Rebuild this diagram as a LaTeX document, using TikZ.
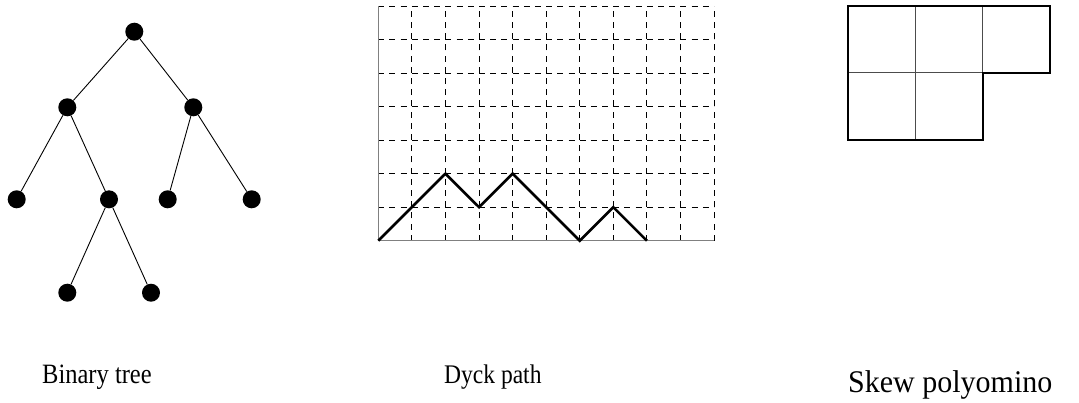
\documentclass[tikz,border=0pt]{standalone}
\usepackage{fontspec}
\setmainfont{Liberation Serif}
\begin{document}
\begin{tikzpicture}[x=1pt,y=-1pt,
  vertex/.style={circle,fill=black,draw=none,minimum size=18pt,inner sep=0pt},
  treeedge/.style={draw=black,line width=0.9pt},
  gridline/.style={black,line width=0.8pt,dash pattern=on 6pt off 5.19pt},
  axisline/.style={gray,line width=1.1pt},
  dyck/.style={black,line width=2.6pt,line join=miter},
  polyouter/.style={black,line width=1.8pt},
  polyinner/.style={black!70,line width=0.9pt},
  caption/.style={anchor=base west,inner sep=0pt}]
\useasboundingbox (0,0) rectangle (1079,402);
% ---------- Binary tree ----------
\node[vertex] (r)   at (134.3,31.7) {};
\node[vertex] (a)   at (67.3,107.3) {};
\node[vertex] (b)   at (193.3,107.3) {};
\node[vertex] (aa)  at (16.7,199.3) {};
\node[vertex] (ab)  at (109,199.3) {};
\node[vertex] (ba)  at (167.7,199.3) {};
\node[vertex] (bb)  at (251.7,199.3) {};
\node[vertex] (aba) at (67.3,292.7) {};
\node[vertex] (abb) at (151,292.7) {};
\draw[treeedge] (r) -- (a);
\draw[treeedge] (r) -- (b);
\draw[treeedge] (a) -- (aa);
\draw[treeedge] (a) -- (ab);
\draw[treeedge] (b) -- (ba);
\draw[treeedge] (b) -- (bb);
\draw[treeedge] (ab) -- (aba);
\draw[treeedge] (ab) -- (abb);
% ---------- Dyck path ----------
\begin{scope}[shift={(378.3,240.7)},x=33.57pt,y=33.53pt]
  \foreach \i in {1,...,10} \draw[gridline] (\i,0) -- (\i,7);
  \foreach \j in {1,...,7} \draw[gridline] (0,\j) -- (10,\j);
  \draw[axisline] (0,7) -- (0,0) -- (10,0);
  \coordinate (d0) at (0,0);
  \coordinate (d1) at (2,2);
  \coordinate (d2) at (3,1);
  \coordinate (d3) at (4,2);
  \coordinate (d4) at (6,0);
  \coordinate (d5) at (7,1);
  \coordinate (d6) at (8,0);
  \draw[dyck] (d0) -- (d1) -- (d2) -- (d3) -- (d4) -- (d5) -- (d6);
\end{scope}
% ---------- Skew polyomino ----------
\draw[polyinner] (915.3,6) -- (915.3,140);
\draw[polyinner] (982.7,6) -- (982.7,72.7);
\draw[polyinner] (848.3,72.7) -- (982.7,72.7);
\draw[polyouter] (848.3,6) -- (1050,6) -- (1050,72.7) -- (982.7,72.7) -- (982.7,140) -- (848.3,140) -- cycle;
% ---------- Captions ----------
\node[caption,font=\fontsize{25}{28}\selectfont] (t1) at (42,383) {\scalebox{0.98}[1.12]{Binary tree}};
\node[caption,font=\fontsize{24}{28}\selectfont] (t2) at (444,383) {\scalebox{0.98}[1.12]{Dyck path}};
\node[caption,font=\fontsize{30}{34}\selectfont] (t3) at (848,392) {\scalebox{1}[1.05]{Skew polyomino}};
\end{tikzpicture}
\end{document}
